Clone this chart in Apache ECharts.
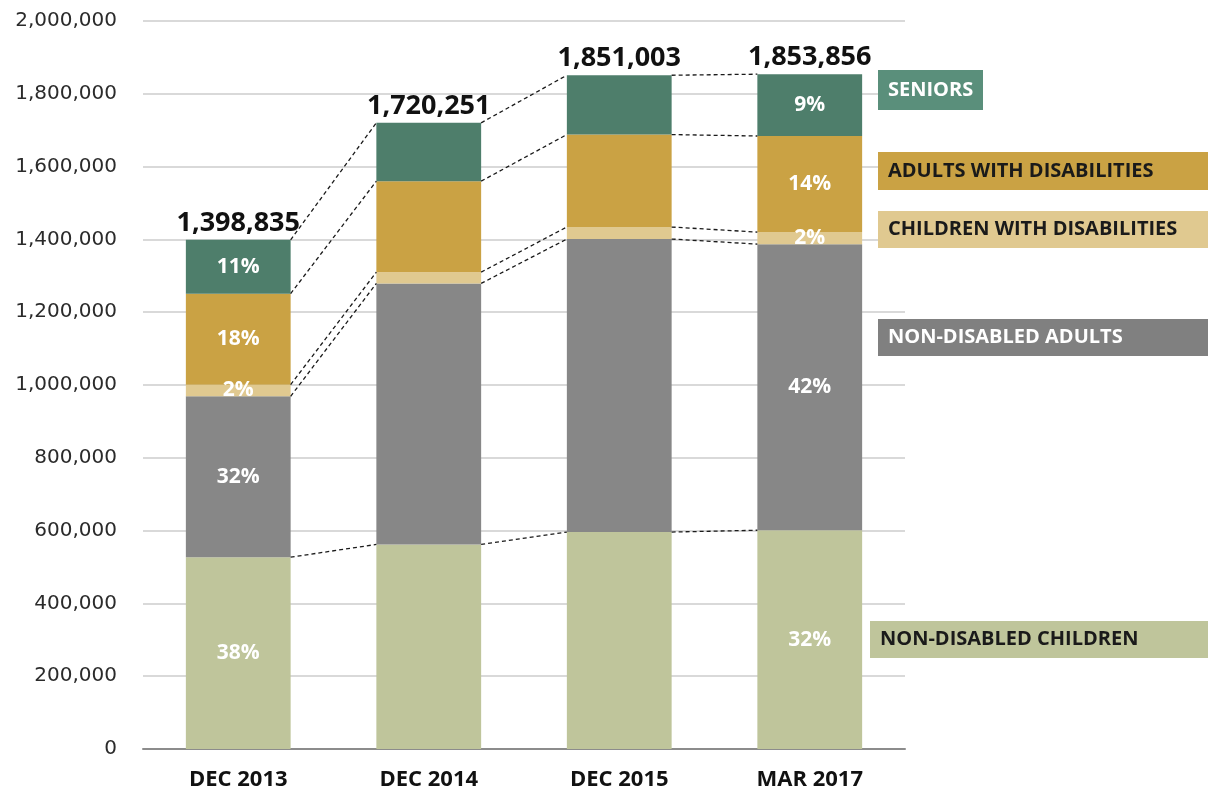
<!DOCTYPE html>
<html style="height: 100%">
<head>
  <meta charset="UTF-8">
  <title>Enrollment by group</title>
  <script src="https://cdn.jsdelivr.net/npm/echarts@6/dist/echarts.min.js"></script>
  <style>
    body { margin: 0; height: 100%; background: #fff; }
    #main { width: 1208px; height: 794px; }
  </style>
</head>
<body>
  <div id="main"></div>
  <script>
    const periods = ['DEC 2013', 'DEC 2014', 'DEC 2015', 'MAR 2017'];
    const groupNames = ['NON-DISABLED CHILDREN', 'NON-DISABLED ADULTS', 'CHILDREN WITH DISABILITIES',
                        'ADULTS WITH DISABILITIES', 'SENIORS'];
    const nonDisabledChildren = [527000, 562000, 596000, 601000];
    const nonDisabledAdults   = [442000, 717000, 805000, 786000];
    const childrenWithDis     = [32000, 31000, 33000, 33000];
    const adultsWithDis       = [250000, 250000, 254000, 264000];
    const seniors             = [147835, 160251, 163003, 169856];
    const groupColors = ['#bfc59b', '#878787', '#e0c990', '#caa244', '#4e7e6b'];
    const labelColors = ['#bfc59b', '#808080', '#e0c990', '#caa244', '#5a8f7b'];
    const labelTextColors = ['#1a1a1a', '#ffffff', '#1a1a1a', '#1a1a1a', '#ffffff'];

    const groups = [nonDisabledChildren, nonDisabledAdults, childrenWithDis, adultsWithDis, seniors];
    const totals = periods.map((_, i) => groups.reduce((s, g) => s + g[i], 0));

    // cumulative tops of every segment, per period
    const cumulative = groups.map((_, k) =>
      periods.map((_, i) => groups.slice(0, k + 1).reduce((s, g) => s + g[i], 0)));

    const fmt = v => v.toLocaleString('en-US');
    const BAR_RATIO = 0.55;

    const barSeries = groups.map((g, k) => ({
      type: 'bar',
      name: groupNames[k],
      stack: 'all',
      barWidth: '55%',
      itemStyle: { color: groupColors[k] },
      label: {
        color: '#fff',
        fontFamily: 'Open Sans',
        fontWeight: 'bold',
        fontSize: 21,
        position: 'inside'
      },
      data: g.map((v, i) => ({
        value: v,
        label: {
          show: i === 0 || i === periods.length - 1,
          formatter: () => Math.round(v / totals[i] * 100) + '%'
        }
      }))
    }));

    // dashed connectors between adjacent bars at each segment boundary
    const connectorData = [];
    cumulative.forEach(levels => {
      for (let i = 0; i < periods.length - 1; i++) {
        connectorData.push([i, levels[i], levels[i + 1]]);
      }
    });

    const connectorSeries = {
      type: 'custom',
      silent: true,
      z: 5,
      data: connectorData,
      encode: { x: 0, y: 1 },
      renderItem: (params, api) => {
        const i = api.value(0);
        const p0 = api.coord([i, api.value(1)]);
        const p1 = api.coord([i + 1, api.value(2)]);
        const half = api.size([1, 0])[0] * BAR_RATIO / 2;
        return {
          type: 'line',
          shape: { x1: p0[0] + half, y1: p0[1], x2: p1[0] - half, y2: p1[1] },
          style: { stroke: '#1a1a1a', lineWidth: 1.3, lineDash: [4, 3] }
        };
      }
    };

    const totalSeries = {
      type: 'scatter',
      symbolSize: 0,
      silent: true,
      itemStyle: { opacity: 1 },
      data: totals,
      label: {
        show: true,
        position: 'top',
        distance: 3,
        opacity: 1,
        formatter: p => fmt(p.value),
        color: '#111',
        fontFamily: 'Open Sans',
        fontWeight: 'bold',
        fontSize: 27
      }
    };

    // side labels acting as the legend
    const boxes = [
      { k: 4, y: 70, h: 40, w: 105, x: 878 },
      { k: 3, y: 152, h: 38, w: 330, x: 878 },
      { k: 2, y: 211, h: 37, w: 330, x: 878 },
      { k: 1, y: 319, h: 37, w: 330, x: 878 },
      { k: 0, y: 621, h: 37, w: 338, x: 870 }
    ];
    const graphic = boxes.map(b => ({
      type: 'group',
      left: b.x,
      top: b.y,
      z: 100,
      children: [
        { type: 'rect', z: 100, shape: { x: 0, y: 0, width: b.w, height: b.h }, style: { fill: labelColors[b.k] } },
        {
          type: 'text', z: 101, x: 10, y: b.h / 2,
          style: {
            text: groupNames[b.k],
            fill: labelTextColors[b.k],
            font: 'bold 20px "Open Sans"',
            verticalAlign: 'middle'
          }
        }
      ]
    }));

    const chart = echarts.init(document.getElementById('main'));
    chart.setOption({
      animation: false,
      grid: { left: 143, right: 303, top: 21, bottom: 45 },
      xAxis: {
        type: 'category',
        data: periods,
        axisTick: { show: false },
        axisLine: { lineStyle: { color: '#8c8c8c', width: 2 } },
        axisLabel: {
          color: '#111',
          fontFamily: 'Open Sans',
          fontWeight: 'bold',
          fontSize: 22,
          margin: 20
        }
      },
      yAxis: {
        type: 'value',
        min: 0,
        max: 2000000,
        interval: 200000,
        axisLine: { show: false },
        axisTick: { show: false },
        splitLine: { lineStyle: { color: '#d9d9d9', width: 2 } },
        axisLabel: {
          color: '#2b2b2b',
          fontFamily: 'DejaVu Sans',
          fontSize: 20,
          margin: 26,
          formatter: fmt
        }
      },
      series: [...barSeries, connectorSeries, totalSeries],
      graphic: graphic
    });
  </script>
</body>
</html>
